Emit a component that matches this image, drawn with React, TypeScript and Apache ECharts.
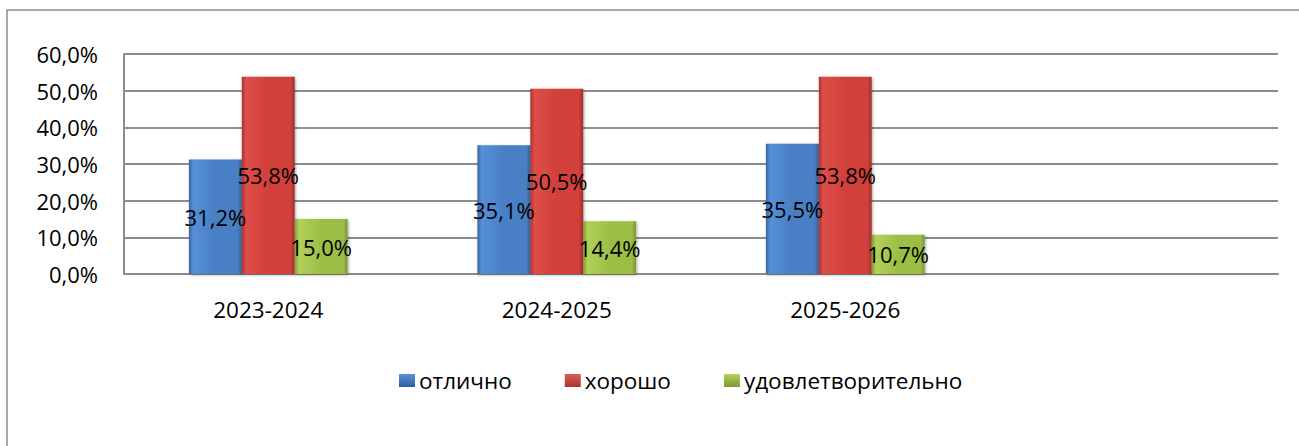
import React, { useEffect, useRef } from "react";
import * as echarts from "echarts";

const categories = ["2023-2024", "2024-2025", "2025-2026", ""];
const seriesNames = ["отлично", "хорошо", "удовлетворительно"];
const excellent = [31.2, 35.1, 35.5, null];
const good = [53.8, 50.5, 53.8, null];
const satisfactory = [15.0, 14.4, 10.7, null];
const yTicks = { min: 0, max: 60, interval: 10 };

const FONT = "Open Sans";

function grad(edge: string, light: string, mid: string, dark: string) {
  return new echarts.graphic.LinearGradient(0, 0, 1, 0, [
    { offset: 0, color: edge },
    { offset: 0.08, color: light },
    { offset: 0.5, color: mid },
    { offset: 0.92, color: mid },
    { offset: 1, color: dark },
  ]);
}

function vgrad(top: string, bottom: string) {
  return new echarts.graphic.LinearGradient(0, 0, 0, 1, [
    { offset: 0, color: top },
    { offset: 1, color: bottom },
  ]);
}

export default function App() {
  const ref = useRef<HTMLDivElement>(null);
  useEffect(() => {
    if (!ref.current) return;
    const chart = echarts.init(ref.current, undefined, { renderer: "svg" });
    const fmt = (v: number) => v.toFixed(1).replace(".", ",") + "%";
    const colors = [
      grad("#3a65a0", "#5590d8", "#4a7fc4", "#34609a"),
      grad("#a8322e", "#de4e48", "#d2403b", "#9e2f2b"),
      grad("#7f9a34", "#b2d05a", "#9bbf45", "#7a9532"),
    ];
    const legendColors = [
      vgrad("#5a92d8", "#2f5e9c"),
      vgrad("#e05a55", "#a83430"),
      vgrad("#b4d25c", "#7c9834"),
    ];
    const label = {
      show: true,
      position: "inside" as const,
      color: "#000",
      fontFamily: FONT,
      fontSize: 22,
      formatter: (p: any) => fmt(p.value),
    };
    const data = [excellent, good, satisfactory];
    chart.setOption({
      animation: false,
      graphic: [
        {
          type: "rect",
          shape: { x: 7, y: 10, width: 1400, height: 600 },
          style: { fill: "none", stroke: "#8c8c8c", lineWidth: 1.5 },
          silent: true,
        },
      ],
      grid: { left: 124, top: 54, right: 21, bottom: 172 },
      legend: {
        data: seriesNames.map((n, i) => ({
          name: n,
          itemStyle: { color: legendColors[i] },
        })),
        top: 364,
        left: 394,
        icon: "rect",
        itemWidth: 16,
        itemHeight: 13,
        itemGap: 53,
        textStyle: { fontFamily: FONT, fontSize: 22.5, color: "#000", padding: [0, 0, 0, -1] },
      },
      xAxis: {
        type: "category",
        data: categories,
        axisLine: { show: true, lineStyle: { color: "#8c8c8c", width: 2 } },
        axisTick: { show: false },
        axisLabel: { fontFamily: FONT, fontSize: 22.5, color: "#000", margin: 24 },
      },
      yAxis: {
        type: "value",
        min: yTicks.min,
        max: yTicks.max,
        interval: yTicks.interval,
        axisLine: { show: true, lineStyle: { color: "#8c8c8c", width: 2 } },
        axisTick: { show: false },
        splitLine: { lineStyle: { color: "#8c8c8c", width: 2 } },
        axisLabel: {
          fontFamily: FONT,
          fontSize: 22,
          color: "#000",
          margin: 26,
          formatter: (v: number) => fmt(v),
        },
      },
      series: seriesNames.map((n, i) => ({
        name: n,
        type: "bar",
        data: data[i],
        barGap: "0%",
        barCategoryGap: "45%",
        itemStyle: {
          color: colors[i],
          shadowColor: "rgba(0,0,0,0.35)",
          shadowBlur: 3,
          shadowOffsetX: 1,
          shadowOffsetY: 1,
        },
        label,
      })),
    });
    return () => chart.dispose();
  }, []);
  return (
    <div
      ref={ref}
      style={{ position: "absolute", left: 0, top: 0, width: 1299, height: 446, background: "#fff" }}
    />
  );
}
